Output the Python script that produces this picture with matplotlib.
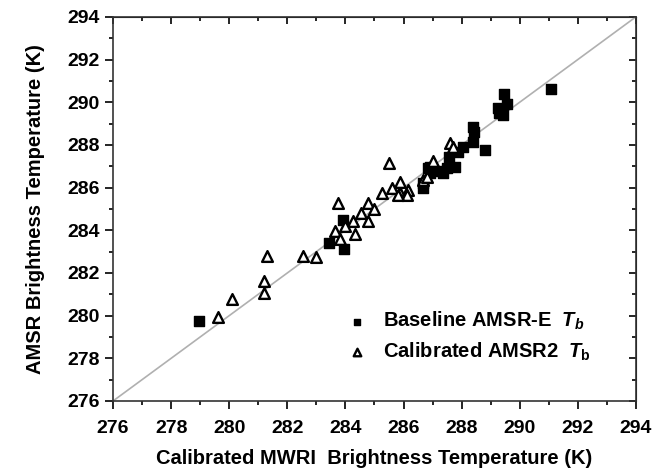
import matplotlib
matplotlib.use("Agg")
import matplotlib.pyplot as plt
from matplotlib.ticker import MultipleLocator

plt.rcParams['font.family'] = ['Liberation Sans', 'DejaVu Sans']
plt.rcParams['font.weight'] = 'bold'
plt.rcParams['mathtext.fontset'] = 'custom'
plt.rcParams['mathtext.it'] = 'Liberation Sans:italic:bold'
plt.rcParams['mathtext.rm'] = 'Liberation Sans:bold'

# Baseline AMSR-E Tb (x = calibrated MWRI, y = AMSR)
base_x = [278.95, 283.43, 283.95, 283.9, 286.67, 291.07,
          289.45, 289.25, 289.56, 289.42, 289.3,
          288.39, 288.42, 288.39, 288.8, 288.04, 287.87, 287.56,
          287.77, 287.49, 287.15, 286.9, 286.9, 287.36, 286.67, 286.85]
base_y = [279.75, 283.42, 283.13, 284.5, 286.0, 290.6,
          290.4, 289.75, 289.9, 289.4, 289.5,
          288.85, 288.6, 288.14, 287.76, 287.9, 287.67, 287.43,
          286.96, 286.9, 286.8, 286.96, 286.7, 286.68, 286.2, 286.9]

# Calibrated AMSR2 Tb
cal_x = [279.61, 280.09, 281.2, 281.2, 281.3, 282.54, 282.99,
         285.5, 283.74, 284.77, 284.53, 285.0, 284.26, 284.77, 284.0,
         283.64, 284.33, 283.81, 285.26, 285.6, 285.88, 285.88, 286.15,
         286.12, 285.8, 286.67, 287.6, 287.7, 287.0, 286.8]
cal_y = [279.92, 280.77, 281.05, 281.6, 282.8, 282.8, 282.75,
         287.15, 285.3, 285.3, 284.83, 285.0, 284.45, 284.45, 284.2,
         283.98, 283.84, 283.6, 285.73, 286.0, 286.25, 285.73, 285.87,
         285.64, 285.64, 286.34, 288.1, 287.9, 287.25, 286.5]

ticks = list(range(276, 295, 2))

fig = plt.figure(figsize=(6.61, 4.69), dpi=100)
ax = fig.add_axes([0.171, 0.145, 0.791, 0.819])

ax.plot([276, 294], [276, 294], color='#b0b0b0', lw=1.2, zorder=1)
ax.scatter(base_x, base_y, marker='s', s=45, color='black', zorder=3,
           label=r'Baseline AMSR-E  $T_b$')
ax.scatter(cal_x, cal_y, marker='^', s=60, facecolor='white', edgecolor='black',
           linewidths=1.7, zorder=4, label=r'Calibrated AMSR2  $T_\mathrm{b}$')

ax.set_xlim(276, 294)
ax.set_ylim(276, 294)
ax.set_xticks(ticks)
ax.set_yticks(ticks)
ax.xaxis.set_minor_locator(MultipleLocator(1))
ax.yaxis.set_minor_locator(MultipleLocator(1))
ax.tick_params(which='both', direction='out', top=False, right=False, labelsize=14, width=1.2)
ax.tick_params(which='major', length=6)
ax.tick_params(which='minor', length=3)
ax.tick_params(axis='x', which='major', pad=8)
ax.tick_params(axis='y', which='major', pad=3.5)
# inward ticks on top/right
ax2 = ax.secondary_xaxis('top')
ax2.set_xticks(ticks)
ax2.xaxis.set_minor_locator(MultipleLocator(1))
ax2.tick_params(which='both', direction='in', labeltop=False, width=1.2)
ax2.tick_params(which='major', length=5)
ax2.tick_params(which='minor', length=3)
ay2 = ax.secondary_yaxis('right')
ay2.set_yticks(ticks)
ay2.yaxis.set_minor_locator(MultipleLocator(1))
ay2.tick_params(which='both', direction='in', labelright=False, width=1.2)
ay2.tick_params(which='major', length=5)
ay2.tick_params(which='minor', length=3)
for sp in ax.spines.values():
    sp.set_linewidth(1.2)
    sp.set_color('#333333')

ax.set_xlabel('Calibrated MWRI  Brightness Temperature (K)', fontsize=14.5, fontweight='bold', labelpad=8)
ax.set_ylabel('AMSR Brightness Temperature (K)', fontsize=14.5, fontweight='bold', labelpad=16)

leg = ax.legend(loc='lower left', bbox_to_anchor=(0.447, 0.10), frameon=False,
                borderpad=0, borderaxespad=0, handlelength=1.0,
                handletextpad=0.8, labelspacing=0.4,
                markerscale=0.7, prop={'weight': 'bold', 'size': 14.5})

fig.savefig('out.png', dpi=100)
